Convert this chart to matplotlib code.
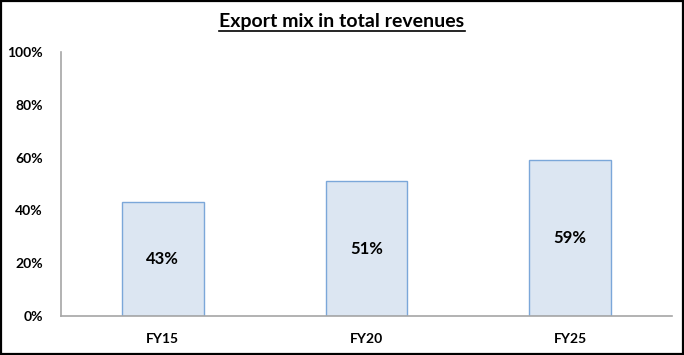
import matplotlib.pyplot as plt
import matplotlib.patches as mpatches
from matplotlib.lines import Line2D
from matplotlib.ticker import FuncFormatter

# data
years = ['FY15', 'FY20', 'FY25']
export_share = [43, 51, 59]
y_ticks = [0, 20, 40, 60, 80, 100]

plt.rcParams['font.family'] = ['Lato', 'DejaVu Sans']
plt.rcParams['font.weight'] = 'bold'

fig = plt.figure(figsize=(6.84, 3.55), dpi=100)
ax = fig.add_axes([0.0892, 0.1099, 0.8933, 0.7436])

x = range(len(years))
bars = ax.bar(x, export_share, width=0.40, color='#DCE6F2',
              edgecolor='#7BA7D9', linewidth=1.0)

for b, v in zip(bars, export_share):
    ax.text(b.get_x() + b.get_width() / 2, v / 2, f'{v}%', ha='center',
            va='center', fontsize=12, fontweight='bold', color='black')

ax.set_xlim(-0.5, len(years) - 0.5)
ax.set_ylim(0, 100)
ax.set_yticks(y_ticks)
ax.yaxis.set_major_formatter(FuncFormatter(lambda v, p: f'{v:.0f}%'))
ax.set_xticks(list(x))
ax.set_xticklabels(years)
ax.tick_params(axis='both', length=0, labelsize=10, pad=12)
ax.tick_params(axis='y', pad=13)

for s in ['top', 'right']:
    ax.spines[s].set_visible(False)
for s in ['left', 'bottom']:
    ax.spines[s].set_color('#A6A6A6')
    ax.spines[s].set_linewidth(1.2)

# underlined title
title = fig.text(0.5, 0.924, 'Export mix in total revenues', ha='center',
                 va='baseline', fontsize=14, fontweight='bold')
fig.canvas.draw()
bb = title.get_window_extent().transformed(fig.transFigure.inverted())
fig.add_artist(Line2D([bb.x0, bb.x1], [0.913, 0.913],
                      transform=fig.transFigure, color='black', linewidth=1.2))

# outer frame
fig.add_artist(mpatches.Rectangle((0.001, 0.002), 0.997, 0.995,
                                  transform=fig.transFigure, fill=False,
                                  edgecolor='black', linewidth=1.6))

fig.savefig('out.png', dpi=100)
